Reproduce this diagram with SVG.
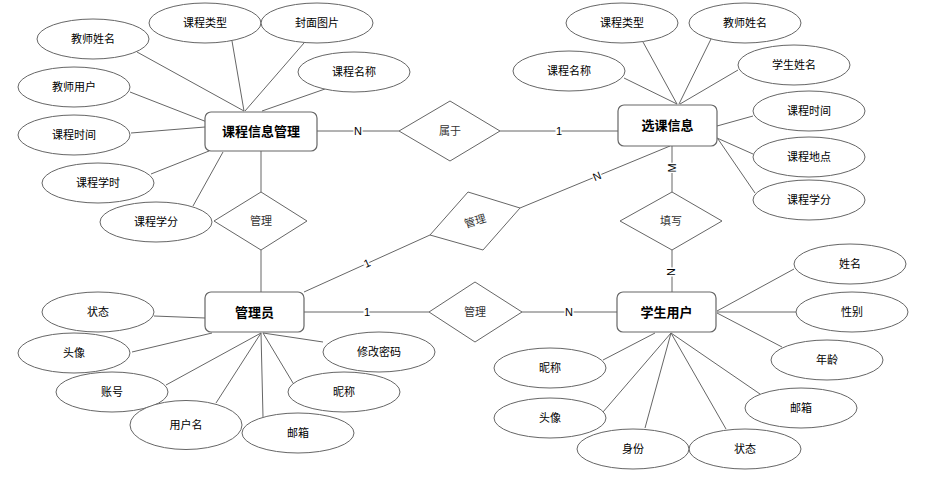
<svg xmlns="http://www.w3.org/2000/svg" width="926" height="482" viewBox="0 0 926 482">
<style>
text{font-family:"Liberation Sans","Noto Sans CJK SC",sans-serif;font-size:11px;fill:#000;text-anchor:middle;dominant-baseline:central}
.ent rect{fill:#fff;stroke:#666;stroke-width:1.2}
.ent text{font-size:13px;font-weight:bold}
.attr ellipse{fill:#fff;stroke:#666;stroke-width:1}
.rel polygon{fill:#fff;stroke:#666;stroke-width:1}
.rel text{fill:#333}
#connectors line{stroke:#666;stroke-width:1}
.lbl{paint-order:stroke;stroke:#fff;stroke-width:3px}
</style>
<rect width="926" height="482" fill="#fff"/>
<g id="connectors">
<line x1="137" y1="52" x2="244" y2="111"/>
<line x1="232" y1="41" x2="244" y2="111"/>
<line x1="304" y1="43" x2="245" y2="111"/>
<line x1="325" y1="89" x2="262" y2="111"/>
<line x1="130" y1="92" x2="207" y2="122"/>
<line x1="131" y1="133" x2="205" y2="127"/>
<line x1="151" y1="174" x2="209" y2="151"/>
<line x1="193" y1="206" x2="223" y2="152"/>
<line x1="624" y1="78" x2="677" y2="104"/>
<line x1="643" y1="42" x2="677" y2="104"/>
<line x1="711" y1="39" x2="679" y2="104"/>
<line x1="738" y1="70" x2="680" y2="104"/>
<line x1="753" y1="116" x2="717" y2="126"/>
<line x1="753" y1="154" x2="717" y2="138"/>
<line x1="755" y1="193" x2="718" y2="139"/>
<line x1="154" y1="316" x2="205" y2="318"/>
<line x1="132" y1="352" x2="212" y2="333"/>
<line x1="166" y1="385" x2="261" y2="333"/>
<line x1="216" y1="403" x2="261" y2="333"/>
<line x1="263" y1="417" x2="261" y2="333"/>
<line x1="293" y1="383" x2="263" y2="333"/>
<line x1="323" y1="342" x2="263" y2="333"/>
<line x1="794" y1="269" x2="717" y2="311"/>
<line x1="797" y1="312" x2="717" y2="312"/>
<line x1="782" y1="347" x2="717" y2="313"/>
<line x1="760" y1="394" x2="671" y2="333"/>
<line x1="726" y1="429" x2="671" y2="333"/>
<line x1="645" y1="428" x2="671" y2="333"/>
<line x1="603" y1="412" x2="671" y2="333"/>
<line x1="603" y1="360" x2="655" y2="333"/>
<line x1="261" y1="151" x2="261" y2="192"/>
<line x1="261" y1="250" x2="261" y2="292"/>
<line x1="317" y1="131" x2="399" y2="131"/>
<line x1="500" y1="131" x2="618" y2="131"/>
<line x1="304" y1="292" x2="430" y2="235"/>
<line x1="520" y1="208" x2="670" y2="146"/>
<line x1="672" y1="146" x2="672" y2="192"/>
<line x1="672" y1="250" x2="672" y2="292"/>
<line x1="304" y1="312" x2="429" y2="312"/>
<line x1="522" y1="312" x2="617" y2="312"/>
<text class="lbl" x="358" y="131">N</text>
<text class="lbl" x="559" y="131">1</text>
<text class="lbl" x="367" y="263" transform="rotate(-24 367 263)">1</text>
<text class="lbl" x="597" y="176" transform="rotate(-22.5 597 176)">N</text>
<text class="lbl" x="672" y="168" transform="rotate(-90 672 168)">M</text>
<text class="lbl" x="671" y="272" transform="rotate(-90 671 272)">N</text>
<text class="lbl" x="367" y="312">1</text>
<text class="lbl" x="569" y="312">N</text>
</g>
<g id="rel-manage-1" class="rel"><polygon points="261,192 307,221 261,250 214,221"/><text x="261" y="221">管理</text></g>
<g id="rel-belong" class="rel"><polygon points="450,101 500,131 450,161 399,131"/><text x="450" y="131">属于</text></g>
<g id="rel-manage-2" class="rel"><polygon points="430,235 468,192 520,208 483,250"/><text x="475" y="221" transform="rotate(-17 475 221)">管理</text></g>
<g id="rel-fill" class="rel"><polygon points="672,192 722,221 672,250 620,221"/><text x="671" y="221">填写</text></g>
<g id="rel-manage-3" class="rel"><polygon points="475,282 522,312 475,342 429,312"/><text x="475" y="312">管理</text></g>
<g id="ent-course" class="ent"><rect x="205" y="112" width="112" height="39" rx="6"/><text x="261" y="131.5">课程信息管理</text></g>
<g id="ent-select" class="ent"><rect x="618" y="105" width="99" height="41" rx="6"/><text x="667.5" y="125.5">选课信息</text></g>
<g id="ent-admin" class="ent"><rect x="205" y="292" width="99" height="40" rx="6"/><text x="254.5" y="312">管理员</text></g>
<g id="ent-student" class="ent"><rect x="617" y="292" width="99" height="40" rx="6"/><text x="666.5" y="312">学生用户</text></g>
<g id="a1" class="attr"><ellipse cx="93" cy="39" rx="56" ry="20"/><text x="93" y="39">教师姓名</text></g>
<g id="a2" class="attr"><ellipse cx="205" cy="23" rx="56" ry="20"/><text x="205" y="23">课程类型</text></g>
<g id="a3" class="attr"><ellipse cx="317" cy="23" rx="56" ry="20"/><text x="317" y="23">封面图片</text></g>
<g id="a4" class="attr"><ellipse cx="354" cy="72" rx="56" ry="20"/><text x="354" y="72">课程名称</text></g>
<g id="a5" class="attr"><ellipse cx="74" cy="87" rx="56" ry="20"/><text x="74" y="87">教师用户</text></g>
<g id="a6" class="attr"><ellipse cx="74" cy="135" rx="56" ry="20"/><text x="74" y="135">课程时间</text></g>
<g id="a7" class="attr"><ellipse cx="98" cy="183" rx="56" ry="20"/><text x="98" y="183">课程学时</text></g>
<g id="a8" class="attr"><ellipse cx="156" cy="222" rx="56" ry="20"/><text x="156" y="222">课程学分</text></g>
<g id="b1" class="attr"><ellipse cx="622" cy="23" rx="56" ry="20"/><text x="622" y="23">课程类型</text></g>
<g id="b2" class="attr"><ellipse cx="745" cy="23" rx="56" ry="20"/><text x="745" y="23">教师姓名</text></g>
<g id="b3" class="attr"><ellipse cx="569" cy="71" rx="56" ry="20"/><text x="569" y="71">课程名称</text></g>
<g id="b4" class="attr"><ellipse cx="794" cy="65" rx="56" ry="20"/><text x="794" y="65">学生姓名</text></g>
<g id="b5" class="attr"><ellipse cx="809" cy="111" rx="56" ry="20"/><text x="809" y="111">课程时间</text></g>
<g id="b6" class="attr"><ellipse cx="809" cy="157" rx="56" ry="20"/><text x="809" y="157">课程地点</text></g>
<g id="b7" class="attr"><ellipse cx="809" cy="200" rx="56" ry="20"/><text x="809" y="200">课程学分</text></g>
<g id="c1" class="attr"><ellipse cx="98" cy="312" rx="56" ry="20"/><text x="98" y="312">状态</text></g>
<g id="c2" class="attr"><ellipse cx="74" cy="353" rx="56" ry="20"/><text x="74" y="353">头像</text></g>
<g id="c3" class="attr"><ellipse cx="112" cy="392" rx="56" ry="20"/><text x="112" y="392">账号</text></g>
<g id="c4" class="attr"><ellipse cx="186" cy="425" rx="56" ry="24.5"/><text x="186" y="425">用户名</text></g>
<g id="c5" class="attr"><ellipse cx="298" cy="433" rx="56" ry="20"/><text x="298" y="433">邮箱</text></g>
<g id="c6" class="attr"><ellipse cx="344" cy="392" rx="56" ry="20"/><text x="344" y="392">昵称</text></g>
<g id="c7" class="attr"><ellipse cx="379" cy="352" rx="56" ry="20"/><text x="379" y="352">修改密码</text></g>
<g id="d1" class="attr"><ellipse cx="850" cy="264" rx="56" ry="20"/><text x="850" y="264">姓名</text></g>
<g id="d2" class="attr"><ellipse cx="852" cy="312" rx="56" ry="20"/><text x="852" y="312">性别</text></g>
<g id="d3" class="attr"><ellipse cx="827" cy="360" rx="56" ry="20"/><text x="827" y="360">年龄</text></g>
<g id="d4" class="attr"><ellipse cx="801" cy="408" rx="56" ry="20"/><text x="801" y="408">邮箱</text></g>
<g id="d5" class="attr"><ellipse cx="745" cy="449" rx="56" ry="20"/><text x="745" y="449">状态</text></g>
<g id="d6" class="attr"><ellipse cx="633" cy="449" rx="56" ry="20"/><text x="633" y="449">身份</text></g>
<g id="d7" class="attr"><ellipse cx="550" cy="418" rx="56" ry="20"/><text x="550" y="418">头像</text></g>
<g id="d8" class="attr"><ellipse cx="550" cy="368" rx="56" ry="20"/><text x="550" y="368">昵称</text></g>
</svg>
